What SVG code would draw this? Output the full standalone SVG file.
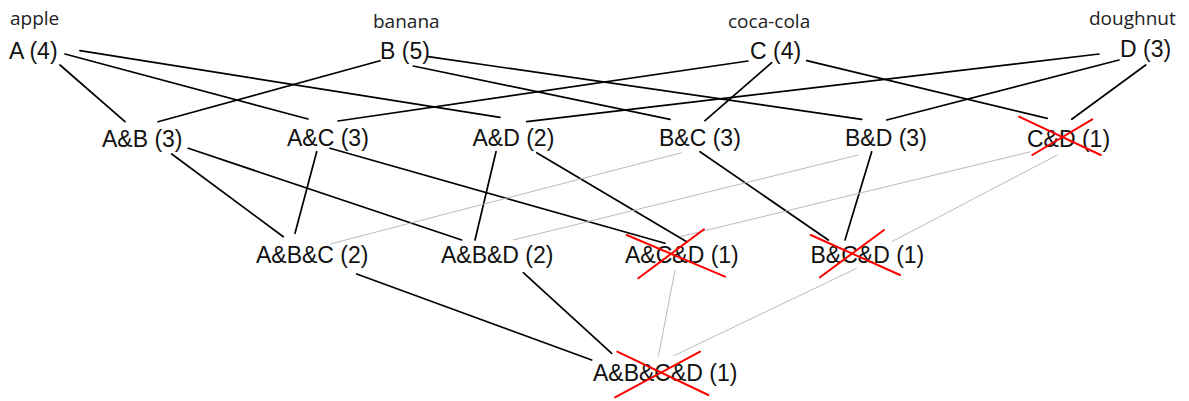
<svg xmlns="http://www.w3.org/2000/svg" width="1189" height="401" viewBox="0 0 1189 401">
<style>
.bg{fill:#ffffff}
.n{font-family:"Liberation Sans",Arial,sans-serif;font-size:23px;fill:#111}
.lb{font-family:"Open Sans","DejaVu Sans",sans-serif;font-size:19px;fill:#222}
.e{stroke:#000;stroke-width:1.7;fill:none;stroke-linecap:round}
.g{stroke:#bbbbbb;stroke-width:1;fill:none}
.x{stroke:#ff0000;stroke-width:2;fill:none;stroke-linecap:round}
</style>
<rect class="bg" x="0" y="0" width="1189" height="401"/>
<g id="connectors">
<!-- row1 -> row2 -->
<line class="e" x1="60" y1="65" x2="125" y2="121.7"/>
<line class="e" x1="65" y1="54" x2="308" y2="119"/>
<line class="e" x1="80" y1="50.7" x2="500" y2="117.3"/>
<line class="e" x1="380" y1="60.7" x2="158" y2="121.7"/>
<line class="e" x1="413.3" y1="66" x2="670" y2="119.3"/>
<line class="e" x1="428.3" y1="56.7" x2="861.7" y2="119.3"/>
<line class="e" x1="748" y1="61" x2="338" y2="121"/>
<line class="e" x1="771.7" y1="62.7" x2="705" y2="120.7"/>
<line class="e" x1="806.7" y1="60.7" x2="1047.3" y2="118.3"/>
<line class="e" x1="1099" y1="54" x2="526.7" y2="121.7"/>
<line class="e" x1="1119" y1="60" x2="886.7" y2="120"/>
<line class="e" x1="1145.7" y1="65" x2="1071.7" y2="119.3"/>
<!-- row2 -> row3 -->
<line class="e" x1="171.7" y1="154" x2="283.3" y2="236.7"/>
<line class="e" x1="188.3" y1="148.3" x2="461.7" y2="240"/>
<line class="e" x1="316.7" y1="151.7" x2="295" y2="233.3"/>
<line class="e" x1="330" y1="148.3" x2="665" y2="243.3"/>
<line class="e" x1="496" y1="151.7" x2="475" y2="240"/>
<line class="e" x1="536.7" y1="152.7" x2="686.7" y2="241.7"/>
<line class="e" x1="700" y1="151.7" x2="828.3" y2="240"/>
<line class="e" x1="871.7" y1="151.7" x2="845" y2="240"/>
<line class="g" x1="681.7" y1="152.7" x2="330" y2="244"/>
<line class="g" x1="858.3" y1="155" x2="513.3" y2="240"/>
<line class="g" x1="1030.7" y1="151.7" x2="680" y2="236.7"/>
<line class="g" x1="1057.3" y1="155" x2="891.7" y2="241.7"/>
<!-- row3 -> row4 -->
<line class="e" x1="356.7" y1="274" x2="591.7" y2="360"/>
<line class="e" x1="523.3" y1="272.7" x2="611.7" y2="353.3"/>
<line class="g" x1="675" y1="270" x2="658.3" y2="356.7"/>
<line class="g" x1="856.7" y1="268.3" x2="673.3" y2="356"/>
</g>
<g id="node-A">
<text class="lb" x="10" y="25">apple</text>
<text class="n" x="9" y="59">A (4)</text>
</g>
<g id="node-B">
<text class="lb" x="373" y="28">banana</text>
<text class="n" x="380" y="58.5">B (5)</text>
</g>
<g id="node-C">
<text class="lb" x="728" y="28">coca-cola</text>
<text class="n" x="750" y="58.5">C (4)</text>
</g>
<g id="node-D">
<text class="lb" x="1089" y="25">doughnut</text>
<text class="n" x="1120" y="57">D (3)</text>
</g>
<g id="node-AB"><text class="n" x="102" y="146.5">A&amp;B (3)</text></g>
<g id="node-AC"><text class="n" x="287" y="146">A&amp;C (3)</text></g>
<g id="node-AD"><text class="n" x="472.5" y="146">A&amp;D (2)</text></g>
<g id="node-BC"><text class="n" x="659" y="145.5">B&amp;C (3)</text></g>
<g id="node-BD"><text class="n" x="845" y="145.5">B&amp;D (3)</text></g>
<g id="node-CD">
<text class="n" x="1027" y="146.5">C&amp;D (1)</text>
<line class="x" x1="1019" y1="116.7" x2="1100.7" y2="155"/>
<line class="x" x1="1032.3" y1="155" x2="1092.3" y2="119.3"/>
</g>
<g id="node-ABC"><text class="n" x="256" y="262.5">A&amp;B&amp;C (2)</text></g>
<g id="node-ABD"><text class="n" x="441" y="262.5">A&amp;B&amp;D (2)</text></g>
<g id="node-ACD">
<text class="n" x="625" y="263">A&amp;C&amp;D (1)</text>
<line class="x" x1="626.7" y1="235" x2="725" y2="276.7"/>
<line class="x" x1="638.3" y1="278.3" x2="704" y2="229.3"/>
</g>
<g id="node-BCD">
<text class="n" x="810.5" y="263">B&amp;C&amp;D (1)</text>
<line class="x" x1="810.7" y1="235" x2="900" y2="275"/>
<line class="x" x1="820" y1="277.3" x2="884" y2="230"/>
</g>
<g id="node-ABCD">
<text class="n" x="593" y="380.5">A&amp;B&amp;C&amp;D (1)</text>
<line class="x" x1="617.3" y1="351.7" x2="708.3" y2="395"/>
<line class="x" x1="615" y1="397.3" x2="700" y2="351.7"/>
</g>
</svg>
